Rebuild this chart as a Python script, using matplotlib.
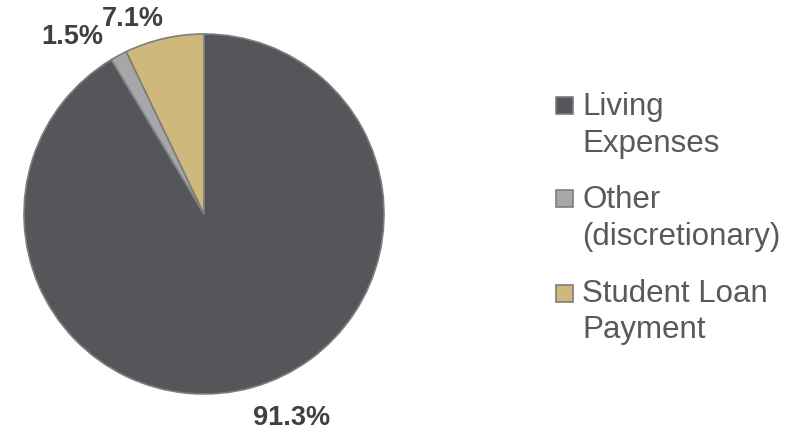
import matplotlib
matplotlib.use("Agg")
import matplotlib.pyplot as plt
from matplotlib.patches import Rectangle

plt.rcParams['font.family'] = ['Liberation Sans', 'DejaVu Sans']

categories = ["Living Expenses", "Other (discretionary)", "Student Loan Payment"]
legend_lines = [["Living", "Expenses"], ["Other", "(discretionary)"], ["Student Loan", "Payment"]]
shares = [91.3, 1.5, 7.1]
colors = ["#55565a", "#a5a7a8", "#cfb87c"]

W, H = 807, 434
fig = plt.figure(figsize=(W / 100, H / 100), dpi=100)
ax = fig.add_axes([0, 0, 1, 1])

cx, cy, r = 204, H - 214, 180
wedges, _ = ax.pie(shares, colors=colors, startangle=90, counterclock=False,
                   center=(cx, cy), radius=r, frame=True,
                   wedgeprops=dict(edgecolor="#7d7d7d", linewidth=1.2))
ax.set_xlim(0, W)
ax.set_ylim(0, H)
ax.set_aspect('equal')
ax.axis('off')

# percentage labels
label_pos = [(292, 418), (72, 37), (133, 19)]
for val, (x, y) in zip(shares, label_pos):
    ax.text(x, H - y, f"{val:.1f}%", ha='center', va='center',
            fontsize=19.5, fontweight='bold', color="#404040")

# legend
sq_top = [97, 190, 285]
baselines = [(115, 152), (208, 245), (302, 338)]
for col, lines, top, (b1, b2) in zip(colors, legend_lines, sq_top, baselines):
    ax.add_patch(Rectangle((556, H - top - 17), 17, 17, facecolor=col,
                           edgecolor="#7d7d7d", linewidth=1.2))
    ax.text(582, H - b1, lines[0], ha='left', va='baseline', fontsize=22.5, color="#595959")
    ax.text(582, H - b2, lines[1], ha='left', va='baseline', fontsize=22.5, color="#595959")

fig.savefig("out.png", dpi=100)
